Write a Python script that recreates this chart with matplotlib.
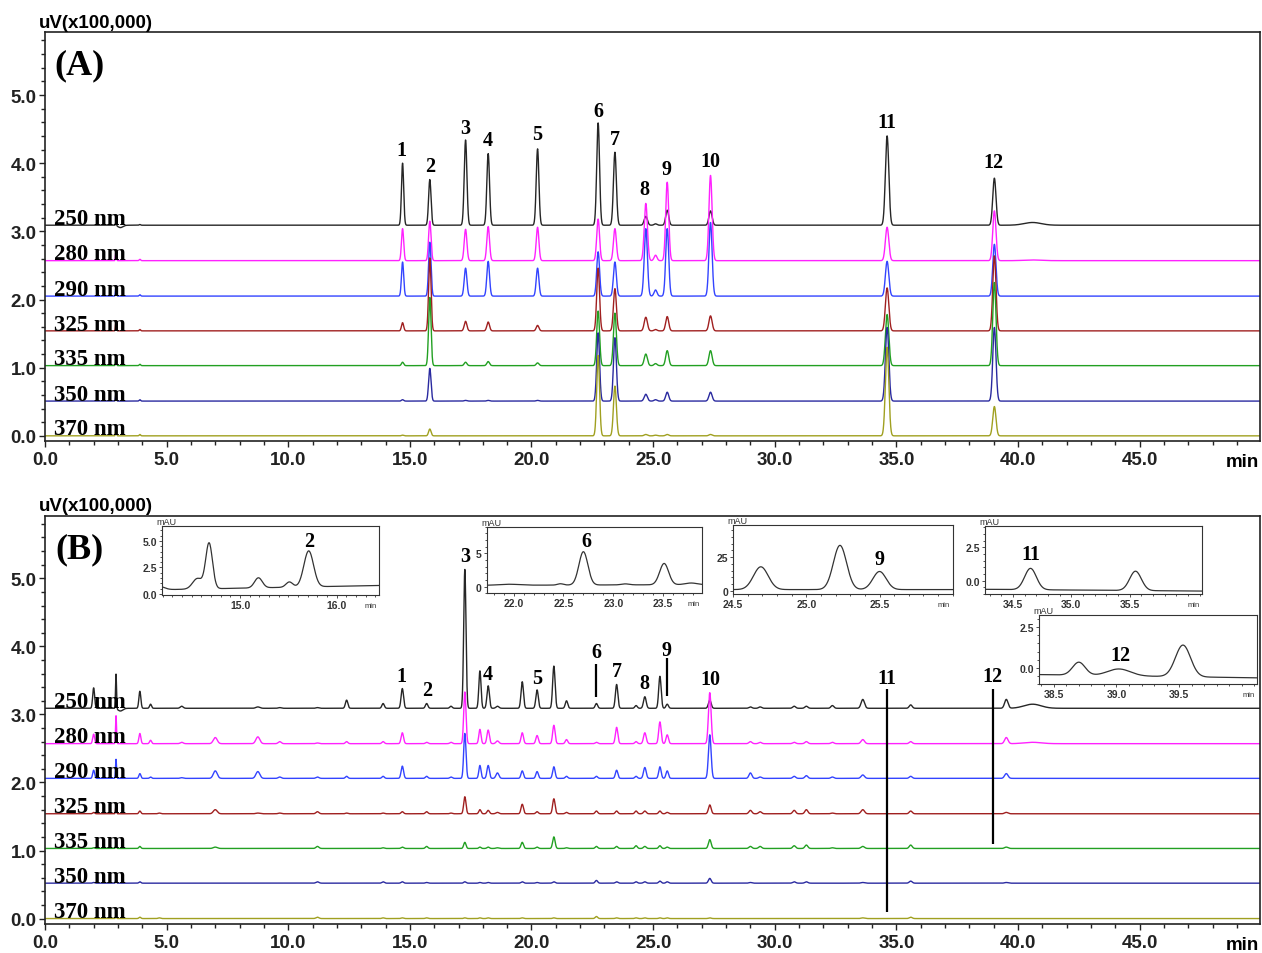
import numpy as np
import matplotlib.pyplot as plt
from matplotlib.ticker import FixedLocator, MultipleLocator, FormatStrFormatter

plt.rcParams['font.family'] = ['Liberation Sans', 'DejaVu Sans']
plt.rcParams['font.weight'] = 'bold'
SERIF = ['Liberation Serif', 'DejaVu Serif']

W, H = 1262, 954

# traces (top to bottom)
wavelengths = ['250 nm', '280 nm', '290 nm', '325 nm', '335 nm', '350 nm', '370 nm']
colors = ['#262626', '#ff22ff', '#3344ff', '#a02020', '#22a022', '#2a2aa0', '#a0a020']
offsets_a = [3.09, 2.57, 2.05, 1.54, 1.03, 0.51, 0.0]
offsets_b = [3.09, 2.57, 2.06, 1.54, 1.03, 0.52, 0.0]

# ---------------- panel A: standards ----------------
rt_a = [2.92, 3.10, 3.90, 14.70, 15.82, 17.29, 18.22, 20.25, 22.74, 23.43,
        24.70, 25.10, 25.58, 27.36, 34.62, 39.03, 40.60]
sd_a = [0.02, 0.10, 0.03, 0.045, 0.05, 0.055, 0.055, 0.055, 0.058, 0.06,
        0.065, 0.06, 0.062, 0.065, 0.07, 0.066, 0.35]
h_a_250 = [0.05, -0.035, 0.01, 0.91, 0.67, 1.25, 1.05, 1.12, 1.50, 1.07,
           0.13, 0.02, 0.22, 0.21, 1.31, 0.69, 0.04]
h_a_280 = [0.15, 0.0, 0.02, 0.47, 0.58, 0.46, 0.50, 0.49, 0.61, 0.47,
           0.84, 0.08, 1.15, 1.25, 0.49, 0.73, 0.01]
h_a_290 = [0.15, 0.0, 0.02, 0.50, 0.79, 0.41, 0.51, 0.41, 0.65, 0.50,
           0.99, 0.09, 0.99, 1.08, 0.51, 0.76, 0.0]
h_a_325 = [0.15, 0.0, 0.02, 0.12, 1.07, 0.14, 0.13, 0.08, 0.92, 0.62,
           0.20, 0.02, 0.21, 0.22, 0.63, 1.10, 0.0]
h_a_335 = [0.14, 0.0, 0.02, 0.05, 1.00, 0.05, 0.06, 0.04, 0.80, 0.77,
           0.17, 0.03, 0.22, 0.22, 0.75, 1.22, 0.0]
h_a_350 = [0.12, 0.0, 0.02, 0.02, 0.48, 0.01, 0.01, 0.01, 1.00, 0.93,
           0.10, 0.02, 0.13, 0.13, 1.08, 1.08, 0.0]
h_a_370 = [0.12, 0.0, 0.02, 0.01, 0.10, 0.0, 0.0, 0.0, 1.18, 0.73,
           0.02, 0.01, 0.02, 0.02, 1.30, 0.43, 0.0]
heights_a = [h_a_250, h_a_280, h_a_290, h_a_325, h_a_335, h_a_350, h_a_370]

peak_names = ['1', '2', '3', '4', '5', '6', '7', '8', '9', '10', '11', '12']
lab_a_x = [14.67, 15.82, 17.26, 18.21, 20.22, 22.73, 23.43, 24.66, 25.57, 27.37, 34.61, 39.01]
lab_a_y = [4.19, 3.96, 4.51, 4.34, 4.43, 4.76, 4.35, 3.62, 3.91, 4.03, 4.61, 4.02]

# ---------------- panel B: sample ----------------
rt_b = [2.00, 2.92, 3.10, 3.90, 4.34, 4.70, 5.62, 7.00, 8.75, 9.65,
        11.20, 12.40, 13.90, 14.69, 15.69, 16.69, 17.26, 17.88, 18.22, 18.60,
        19.62, 20.23, 20.92, 21.44, 22.67, 23.50, 24.30, 24.66, 25.28, 25.58,
        27.33, 29.00, 29.40, 30.80, 31.30, 32.37, 33.62, 35.59, 39.52, 40.60]
sd_b = [0.04, 0.02, 0.10, 0.04, 0.04, 0.05, 0.06, 0.08, 0.08, 0.06,
        0.06, 0.05, 0.05, 0.05, 0.05, 0.05, 0.047, 0.045, 0.05, 0.06,
        0.05, 0.05, 0.05, 0.05, 0.05, 0.05, 0.05, 0.055, 0.05, 0.05,
        0.055, 0.06, 0.06, 0.06, 0.06, 0.06, 0.07, 0.06, 0.07, 0.35]
h_b_250 = [0.30, 0.51, -0.04, 0.25, 0.06, 0.0, 0.03, 0.0, 0.02, 0.01,
           0.01, 0.12, 0.07, 0.29, 0.07, 0.03, 2.04, 0.55, 0.33, 0.03,
           0.39, 0.27, 0.62, 0.11, 0.07, 0.35, 0.04, 0.17, 0.47, 0.06,
           0.12, 0.02, 0.02, 0.03, 0.03, 0.04, 0.13, 0.05, 0.13, 0.06]
h_b_280 = [0.14, 0.41, 0.0, 0.15, 0.05, 0.0, 0.02, 0.09, 0.10, 0.03,
           0.01, 0.03, 0.03, 0.16, 0.02, 0.02, 0.76, 0.21, 0.20, 0.04,
           0.16, 0.12, 0.27, 0.06, 0.02, 0.24, 0.03, 0.16, 0.32, 0.13,
           0.75, 0.03, 0.02, 0.02, 0.03, 0.02, 0.06, 0.03, 0.09, 0.02]
h_b_290 = [0.12, 0.28, 0.0, 0.07, 0.02, 0.0, 0.01, 0.11, 0.10, 0.02,
           0.02, 0.03, 0.03, 0.18, 0.03, 0.02, 0.66, 0.19, 0.19, 0.08,
           0.11, 0.10, 0.17, 0.03, 0.03, 0.12, 0.03, 0.16, 0.17, 0.11,
           0.64, 0.08, 0.02, 0.03, 0.04, 0.02, 0.05, 0.03, 0.07, 0.0]
h_b_325 = [0.02, 0.12, 0.0, 0.04, 0.0, 0.01, 0.0, 0.06, 0.01, 0.01,
           0.03, 0.01, 0.01, 0.03, 0.03, 0.01, 0.25, 0.06, 0.05, 0.02,
           0.14, 0.03, 0.22, 0.02, 0.04, 0.04, 0.04, 0.04, 0.04, 0.02,
           0.13, 0.05, 0.03, 0.05, 0.06, 0.01, 0.06, 0.04, 0.02, 0.0]
h_b_335 = [0.01, 0.06, 0.0, 0.03, 0.0, 0.0, 0.0, 0.02, 0.0, 0.0,
           0.03, 0.0, 0.01, 0.02, 0.03, 0.0, 0.09, 0.02, 0.02, 0.01,
           0.09, 0.02, 0.17, 0.01, 0.03, 0.03, 0.04, 0.03, 0.04, 0.02,
           0.13, 0.03, 0.03, 0.04, 0.05, 0.01, 0.03, 0.05, 0.02, 0.0]
h_b_350 = [0.01, 0.05, 0.0, 0.02, 0.0, 0.0, 0.0, 0.0, 0.0, 0.0,
           0.02, 0.0, 0.02, 0.02, 0.01, 0.0, 0.02, 0.01, 0.01, 0.0,
           0.02, 0.01, 0.02, 0.0, 0.04, 0.02, 0.02, 0.02, 0.03, 0.02,
           0.07, 0.01, 0.0, 0.02, 0.02, 0.0, 0.01, 0.03, 0.01, 0.0]
h_b_370 = [0.0, 0.04, 0.0, 0.02, 0.0, 0.01, 0.0, 0.0, 0.0, 0.0,
           0.02, 0.0, 0.01, 0.01, 0.01, 0.0, 0.01, 0.01, 0.01, 0.0,
           0.01, 0.0, 0.01, 0.0, 0.03, 0.01, 0.01, 0.01, 0.01, 0.01,
           0.01, 0.0, 0.0, 0.0, 0.0, 0.0, 0.01, 0.02, 0.0, 0.0]
heights_b = [h_b_250, h_b_280, h_b_290, h_b_325, h_b_335, h_b_350, h_b_370]

lab_b_x = [14.67, 15.70, 17.26, 18.21, 20.22, 22.65, 23.51, 24.66, 25.57, 27.37, 34.61, 38.96]
lab_b_y = [3.57, 3.36, 5.33, 3.60, 3.54, 3.91, 3.64, 3.46, 3.95, 3.52, 3.54, 3.57]

# marker bars in panel B: (time, bottom, top)
bar_t = [22.67, 25.58, 34.62, 38.97]
bar_lo = [3.26, 3.27, 0.10, 1.09]
bar_hi = [3.74, 3.83, 3.37, 3.38]

# ---------------- insets of panel B (mAU) ----------------
in2_rt = [14.17, 14.56, 14.68, 15.19, 15.51, 15.71]
in2_h = [0.30, 1.00, 4.30, 0.95, 0.50, 3.40]
in2_sd = [0.05, 0.05, 0.035, 0.04, 0.035, 0.05]
in2_base = (0.40, 0.80)
in6_rt = [21.95, 22.47, 22.70, 23.12, 23.51, 23.78]
in6_h = [0.15, 0.20, 5.00, 0.15, 3.20, 0.25]
in6_sd = [0.10, 0.03, 0.045, 0.04, 0.045, 0.06]
in6_base = (0.20, 0.30)
in9_rt = [24.69, 25.23, 25.50]
in9_h = [17.0, 33.0, 13.5]
in9_sd = [0.05, 0.045, 0.045]
in9_base = (0.8, 0.8)
in11_rt = [34.65, 35.55]
in11_h = [1.60, 1.45]
in11_sd = [0.05, 0.05]
in11_base = (-0.65, -0.78)
in12_rt = [38.70, 39.02, 39.53]
in12_h = [0.80, 0.42, 1.95]
in12_sd = [0.05, 0.09, 0.06]
in12_base = (-0.42, -0.62)


def peaks(x, base, rts, hs, sds):
    y = np.interp(x, [x[0], x[-1]], base) if np.ndim(base) else np.full_like(x, base)
    for r, h, s in zip(rts, hs, sds):
        y = y + h * np.exp(-0.5 * ((x - r) / s) ** 2)
    return y


def px_rect(l, t, r, b):
    return [l / W, 1 - b / H, (r - l) / W, (b - t) / H]


t = np.linspace(0, 50, 10001)

fig = plt.figure(figsize=(W / 100, H / 100), dpi=100)


def main_panel(rect, tag, offsets, rts, sds, heights, lab_x, lab_y):
    ax = fig.add_axes(rect)
    for off, hs, c, wl in zip(offsets, heights, colors, wavelengths):
        ax.plot(t, peaks(t, off, rts, hs, sds), color=c, lw=1.0)
        ax.text(0.37, off + 0.02, wl, family=SERIF, fontsize=16.5,
                fontweight='bold', ha='left', va='baseline', zorder=5)
    for name, x, y in zip(peak_names, lab_x, lab_y):
        ax.text(x, y, name, family=SERIF, fontsize=14.5, fontweight='bold',
                ha='center', va='center', zorder=6)
    ax.text(1.4, 5.44, tag, family=SERIF, fontsize=26, fontweight='bold',
            ha='center', va='center')
    ax.set_xlim(0, 49.95)
    ax.set_ylim(-0.08, 5.92)
    ax.xaxis.set_major_locator(FixedLocator(np.arange(0, 46, 5)))
    ax.xaxis.set_minor_locator(FixedLocator(np.arange(0, 50, 1)))
    ax.yaxis.set_major_locator(MultipleLocator(1))
    ax.yaxis.set_minor_locator(MultipleLocator(0.2))
    ax.xaxis.set_major_formatter(FormatStrFormatter('%.1f'))
    ax.yaxis.set_major_formatter(FormatStrFormatter('%.1f'))
    ax.tick_params(which='both', direction='out', width=1, pad=1.5,
                   labelsize=13.5, colors='#222222')
    ax.tick_params(axis='x', pad=2.5)
    ax.tick_params(which='major', length=4.5)
    ax.tick_params(which='minor', length=2.8)
    for sp in ax.spines.values():
        sp.set_linewidth(1.2)
        sp.set_color('#222222')
    ax.annotate('min', xy=(49.24, 0), xycoords=('data', 'axes fraction'),
                xytext=(0, -8.5), textcoords='offset points',
                ha='center', va='top', fontsize=13.5)
    ax.text(-0.005, 1.004, 'uV(x100,000)', transform=ax.transAxes,
            ha='left', va='bottom', fontsize=13.5)
    return ax


ax_a = main_panel(px_rect(45, 33.3, 1260, 442.3), '(A)', offsets_a, rt_a, sd_a,
                  heights_a, lab_a_x, lab_a_y)
ax_b = main_panel(px_rect(45, 516.7, 1260, 925), '(B)', offsets_b, rt_b, sd_b,
                  heights_b, lab_b_x, lab_b_y)
ax_b.vlines(bar_t, bar_lo, bar_hi, colors='black', lw=1.6, zorder=7)


def inset(rect, xlim, ylim, xticks, yticks, ylabels, xminor, yminor,
          rts, hs, sds, base, label, lab_xy):
    ax = fig.add_axes(rect, zorder=10)
    ax.set_facecolor('white')
    x = np.linspace(xlim[0], xlim[1], 600)
    ax.plot(x, peaks(x, base, rts, hs, sds), color='#333333', lw=0.9)
    ax.set_xlim(xlim)
    ax.set_ylim(ylim)
    ax.set_xticks(xticks)
    ax.set_xticklabels(['%.1f' % v for v in xticks])
    ax.set_yticks(yticks)
    ax.set_yticklabels(ylabels)
    ax.xaxis.set_minor_locator(MultipleLocator(xminor))
    ax.yaxis.set_minor_locator(MultipleLocator(yminor))
    ax.tick_params(which='both', direction='out', width=0.6, pad=1,
                   labelsize=7.5, colors='#333333')
    ax.tick_params(which='major', length=2.5)
    ax.tick_params(which='minor', length=1.5)
    for sp in ax.spines.values():
        sp.set_linewidth(0.8)
        sp.set_color('#333333')
    ax.text(0.02, 1.0, 'mAU', transform=ax.transAxes, ha='center', va='bottom',
            fontsize=6.5, fontweight='normal', color='#333333')
    ax.text(0.96, -0.1, 'min', transform=ax.transAxes, ha='center', va='top',
            fontsize=5.5, fontweight='normal', color='#333333')
    ax.text(lab_xy[0], lab_xy[1], label, family=SERIF, fontsize=14.5,
            fontweight='bold', ha='center', va='center')


inset(px_rect(161.7, 526.7, 379.3, 596), (14.19, 16.44), (-0.1, 6.45),
      [15.0, 16.0], [0, 2.5, 5.0], ['0.0', '2.5', '5.0'], 0.1, 0.5,
      in2_rt, in2_h, in2_sd, in2_base, '2', (15.71, 5.0))
inset(px_rect(486.7, 527.7, 702, 594.3), (21.73, 23.89), (-1, 9),
      [22.0, 22.5, 23.0, 23.5], [0, 5], ['0', '5'], 0.1, 1,
      in6_rt, in6_h, in6_sd, in6_base, '6', (22.73, 6.9))
inset(px_rect(733, 526, 952.8, 595), (24.5, 26.0), (-2.5, 49),
      [24.5, 25.0, 25.5], [0, 25], ['0', '25'], 0.1, 5,
      in9_rt, in9_h, in9_sd, in9_base, '9', (25.5, 23.6))
inset(px_rect(985, 526.7, 1202, 595), (34.26, 36.12), (-1, 4.12),
      [34.5, 35.0, 35.5], [0, 2.5], ['0.0', '2.5'], 0.1, 0.5,
      in11_rt, in11_h, in11_sd, in11_base, '11', (34.65, 2.0))
inset(px_rect(1038.7, 616, 1257, 685), (38.38, 40.12), (-1, 3.25),
      [38.5, 39.0, 39.5], [0, 2.5], ['0.0', '2.5'], 0.1, 0.5,
      in12_rt, in12_h, in12_sd, in12_base, '12', (39.03, 0.79))

fig.savefig('out.png', dpi=100)
